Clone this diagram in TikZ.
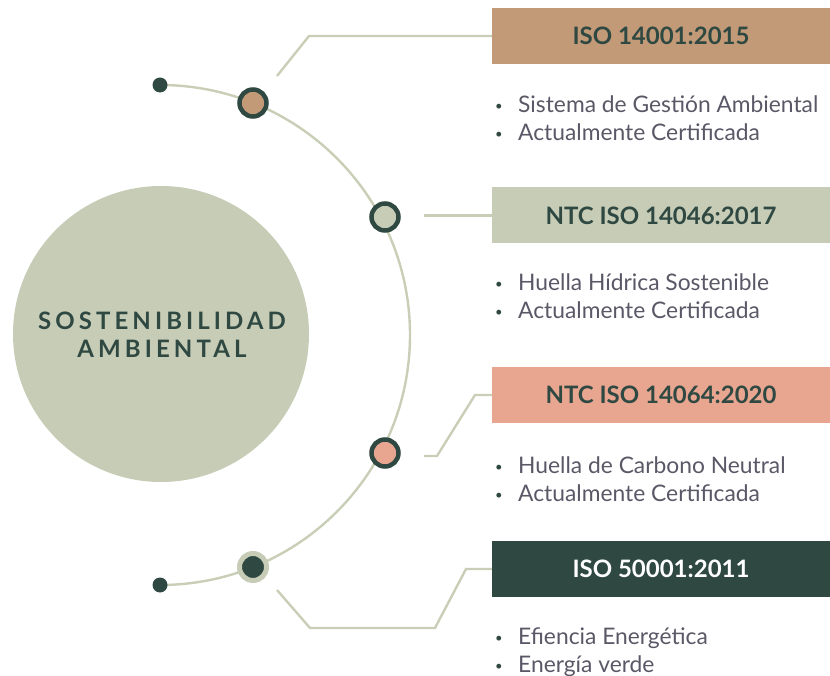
\documentclass[tikz,border=0pt]{standalone}
\usepackage{fontspec}
\setmainfont{Lato}
\usetikzlibrary{positioning}

\definecolor{sage}{HTML}{C6CCB6}
\definecolor{tan}{HTML}{C39A77}
\definecolor{salmon}{HTML}{E8A690}
\definecolor{pine}{HTML}{2F4942}
\definecolor{bodygray}{HTML}{5A5866}
\definecolor{wirecol}{HTML}{C9CEB6}

\newcommand{\bul}[1]{\makebox[23pt][l]{\raisebox{2pt}{\textcolor{pine}{\fontsize{13}{13}\selectfont\textbullet}}}#1}

\tikzset{
  isobox/.style={minimum width=338pt,minimum height=56pt,inner sep=0pt,
    font=\fontsize{24}{24}\selectfont\bfseries,text=pine},
  ringdot/.style={circle,draw=pine,line width=4.5pt,minimum size=27pt,inner sep=0pt},
  enddot/.style={circle,fill=pine,minimum size=15pt,inner sep=0pt},
  wire/.style={draw=wirecol,line width=2.4pt},
  bullets/.style={align=left,anchor=base west,inner sep=0pt,
    font=\fontsize{22.8}{28}\selectfont,text=bodygray},
}

\begin{document}
\begin{tikzpicture}[x=1pt,y=1pt]
  \useasboundingbox (0,0) rectangle (830,-676);
  % hub
  \node[circle,fill=sage,minimum size=296pt,inner sep=0pt] (hub) at (161,-334) {};
  \node[align=center,text=pine,font=\fontsize{24}{28}\selectfont\bfseries\addfontfeatures{LetterSpace=17}] (hublabel) at (162,-335) {SOSTENIBILIDAD\\AMBIENTAL};
  % arc and dots
  \coordinate (arcstart) at (160,-85);
  \draw[wire] (arcstart) arc[start angle=90,end angle=-90,radius=250] coordinate (arcend);
  \node[enddot] (tdot) at (arcstart) {};
  \node[enddot] (bdot) at (arcend) {};
  \node[ringdot,fill=tan] (ring1) at (253,-103) {};
  \node[ringdot,fill=sage] (ring2) at (385,-217) {};
  \node[ringdot,fill=salmon] (ring3) at (385,-453) {};
  \node[ringdot,draw=sage,fill=pine,line width=5pt] (ring4) at (253,-567) {};
  % boxes
  \node[isobox,fill=tan] (iso14001) at (661,-36) {ISO 14001:2015};
  \node[isobox,fill=sage] (iso14046) at (661,-215.5) {NTC ISO 14046:2017};
  \node[isobox,fill=salmon] (iso14064) at (661,-395) {NTC ISO 14064:2020};
  \node[isobox,fill=pine,text=white] (iso50001) at (661,-569) {ISO 50001:2011};
  % connectors
  \coordinate (w1) at (277,-76);
  \coordinate (w2) at (424,-215.5);
  \coordinate (w3) at (424,-456);
  \coordinate (w4) at (277,-590);
  \draw[wire] (w1) -- (309,-36) -- (iso14001.west);
  \draw[wire] (w2) -- (iso14046.west);
  \draw[wire] (w3) -- (437,-456) -- (475,-395) -- (iso14064.west);
  \draw[wire] (w4) -- (310,-628) -- (435,-628) -- (466,-569) -- (iso50001.west);
  % bullet lists (anchored at the baseline of the last line)
  \node[bullets] (list1) at (495,-141) {\bul{Sistema de Gestión Ambiental}\\\bul{Actualmente Certificada}};
  \node[bullets] (list2) at (495,-319) {\bul{Huella Hídrica Sostenible}\\\bul{Actualmente Certificada}};
  \node[bullets] (list3) at (495,-501) {\bul{Huella de Carbono Neutral}\\\bul{Actualmente Certificada}};
  \node[bullets] (list4) at (495,-672) {\bul{Efiencia Energética}\\\bul{Energía verde}};
\end{tikzpicture}
\end{document}
